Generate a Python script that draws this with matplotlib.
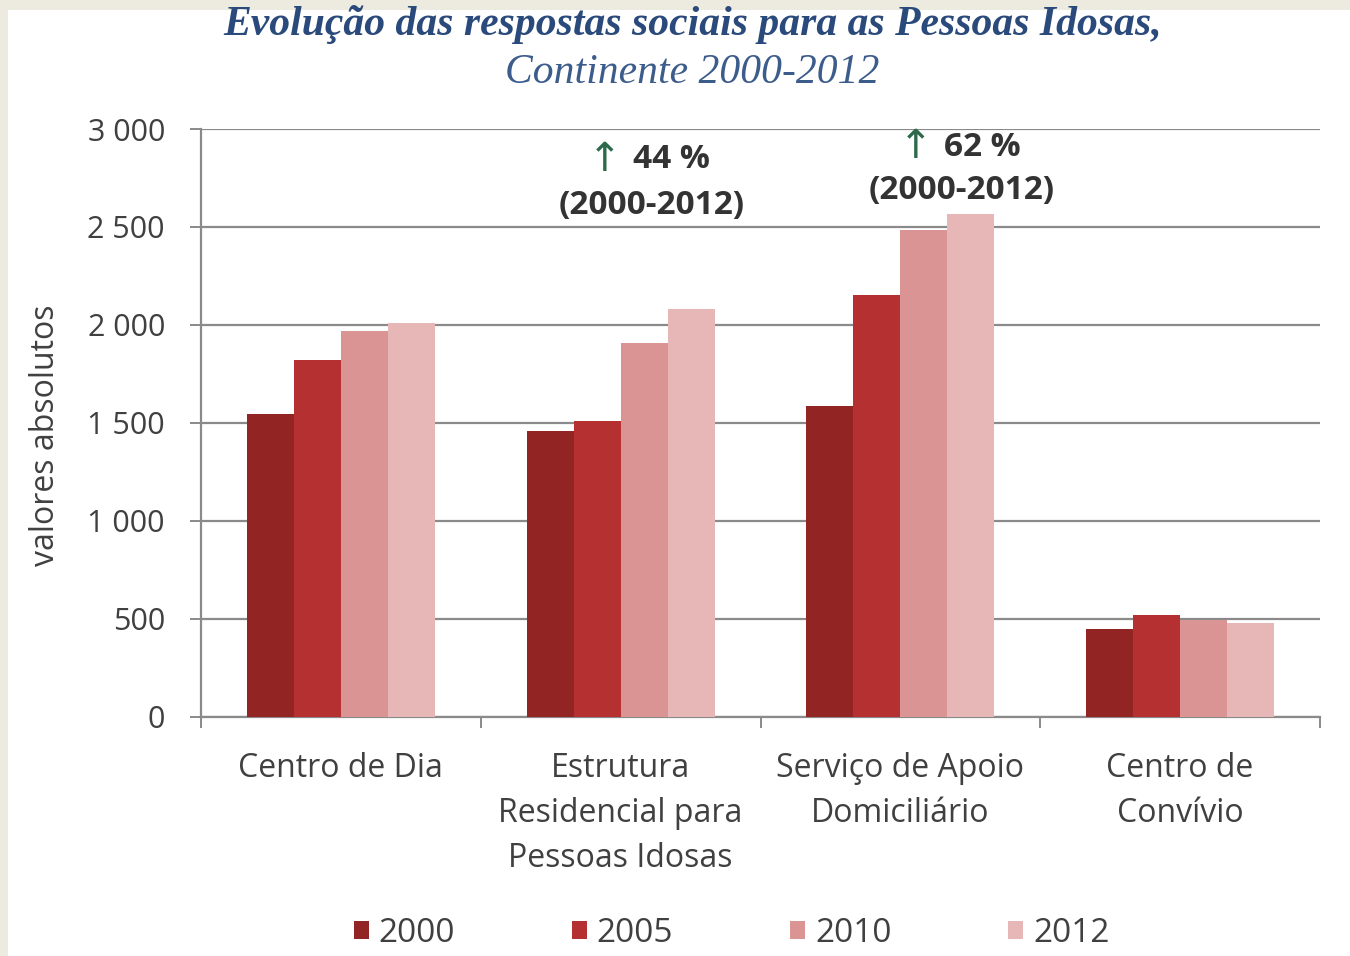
import matplotlib
matplotlib.use("Agg")
import matplotlib.pyplot as plt
from matplotlib.patches import Rectangle
from matplotlib.ticker import FuncFormatter, FixedLocator
import numpy as np

plt.rcParams["font.family"] = ["Open Sans", "DejaVu Sans"]

# dados
categorias = ["Centro de Dia", "Estrutura\nResidencial para\nPessoas Idosas",
              "Serviço de Apoio\nDomiciliário", "Centro de\nConvívio"]
anos = ["2000", "2005", "2010", "2012"]
v2000 = [1545, 1460, 1587, 449]
v2005 = [1821, 1510, 2153, 520]
v2010 = [1969, 1908, 2485, 495]
v2012 = [2010, 2082, 2566, 480]
yticks = [0, 500, 1000, 1500, 2000, 2500, 3000]
# (posição x, y da 1a linha, y da 2a linha, texto)
notas = [(1.11, 2842, 2612, "44 %"), (2.22, 2908, 2684, "62 %")]

cores = ["#922424", "#B53131", "#DA9494", "#E7B7B8"]
cinza = "#404040"

fig = plt.figure(figsize=(13.5, 9.56), dpi=100)
fig.patch.set_facecolor("#EDEBE0")
fig.add_artist(Rectangle((8 / 1350, 0), 1, 1 - 10 / 956, transform=fig.transFigure,
                         facecolor="white", edgecolor="none", zorder=0))

ax = fig.add_axes([201 / 1350, 1 - 717 / 956, (1320 - 201) / 1350, (717 - 129) / 956])
ax.set_facecolor("none")

x = np.arange(len(categorias))
w = 0.168
series = [v2000, v2005, v2010, v2012]
for i, (vals, cor, ano) in enumerate(zip(series, cores, anos)):
    ax.bar(x + (i - 1.5) * w, vals, width=w, color=cor, label=ano, zorder=3)

ax.set_xlim(-0.5, len(categorias) - 0.5)
ax.set_ylim(0, 3000)
ax.set_yticks(yticks)
ax.yaxis.set_major_formatter(FuncFormatter(lambda v, p: f"{v:,.0f}".replace(",", " ")))
ax.grid(axis="y", color="#8A8A8A", linewidth=1.6, zorder=0)
ax.set_axisbelow(True)

ax.set_xticks(x)
ax.set_xticklabels(categorias, fontsize=23, color=cinza, linespacing=1.49, va="top")
ax.tick_params(axis="x", which="major", length=0, pad=25)
ax.xaxis.set_minor_locator(FixedLocator(np.arange(-0.5, len(categorias), 1.0)))
ax.tick_params(axis="x", which="minor", length=8, width=1.4, color="#8A8A8A", direction="out")
ax.tick_params(axis="y", length=8, width=1.4, color="#8A8A8A", labelsize=22,
               labelcolor=cinza, pad=18)

for s in ["top", "right"]:
    ax.spines[s].set_visible(False)
for s in ["left", "bottom"]:
    ax.spines[s].set_color("#8A8A8A")
    ax.spines[s].set_linewidth(1.6)

ax.set_ylabel("valores absolutos", fontsize=23, color=cinza)
ax.yaxis.set_label_coords(-0.124, 0.48)

# notas de crescimento
for xp, y1, y2, txt in notas:
    ax.text(xp - 0.065, y1, txt, fontsize=24, fontweight="bold", color="#333333",
            ha="left", va="center")
    ax.text(xp - 0.105, y1, "↑", fontsize=29, color="#2D6A4A",
            ha="right", va="center", family="DejaVu Sans")
    ax.text(xp, y2, "(2000-2012)", fontsize=24, fontweight="bold",
            color="#333333", ha="center", va="center")

# título
fig.text(0.513, 1 - 25 / 956, "Evolução das respostas sociais para as Pessoas Idosas,",
         family="Liberation Serif", style="italic", fontweight="bold", fontsize=30,
         color="#2B4A7C", ha="center", va="center")
fig.text(0.513, 1 - 73 / 956, "Continente 2000-2012", family="Liberation Serif",
         style="italic", fontsize=30, color="#3C5C8C", ha="center", va="center")

# legenda
handles, labels = ax.get_legend_handles_labels()
leg = fig.legend(handles, labels, loc="center", bbox_to_anchor=(0.542, 1 - 933 / 956),
                 ncol=4, frameon=False, fontsize=24, handlelength=0.45, handleheight=0.45,
                 handletextpad=0.3, columnspacing=3.5)
for t in leg.get_texts():
    t.set_color(cinza)

fig.savefig("out.png", dpi=100, facecolor=fig.get_facecolor())
